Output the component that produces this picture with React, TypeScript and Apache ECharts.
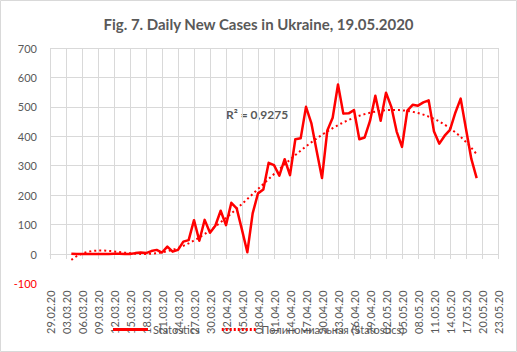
import React, { useEffect, useRef } from "react";
import * as echarts from "echarts";

// Axis: day offsets from 29.02.2020 (day 0) to 23.05.2020 (day 84), ticks every 3 days
const AXIS_START_UTC = Date.UTC(2020, 1, 29);
const AXIS_MAX_DAY = 84;
const TICK_STEP_DAYS = 3;

// First plotted point is day 4 (04.03.2020); one value per day up to day 80 (19.05.2020)
const FIRST_DAY = 4;
const dailyCases = [
  1, 0, 0, 0, 0, 0, 0, 0,
  1, 1, 0, 0, 3, 5, 3, 10, 14, 5,
  25, 8, 14, 42, 47, 115, 45, 116, 72, 96,
  147, 98, 174, 155, 82, 6, 138, 206, 219, 310,
  302, 266, 322, 268, 390, 393, 500, 445, 350, 258,
  420, 463, 576, 477, 478, 489, 390, 396, 452, 538,
  453, 548, 500, 416, 364, 487, 507, 504, 515, 522,
  416, 375, 402, 422, 480, 528, 425, 323, 258,
];

const Y_MIN = -100;
const Y_MAX = 700;
const Y_STEP = 100;

const TITLE = "Fig. 7. Daily New Cases in Ukraine, 19.05.2020";
const SERIES_NAME = "Statostics";
const TREND_NAME = "Полиномиальная (Statostics)";
const R2_LABEL = "R² = 0,9275";
const TREND_ORDER = 6; // Excel polynomial trendline, order 6 (R² ≈ 0.9275)

const FONT = "Lato, 'Open Sans', sans-serif";
const TEXT_COLOR = "#595959";
const GRID_COLOR = "#d9d9d9";
const RED = "#ff0000";

function pad(n: number) {
  return n < 10 ? "0" + n : String(n);
}
function dayLabel(d: number) {
  const dt = new Date(AXIS_START_UTC + d * 86400000);
  return `${pad(dt.getUTCDate())}.${pad(dt.getUTCMonth() + 1)}.${String(dt.getUTCFullYear()).slice(2)}`;
}

function polyFit(xs: number[], ys: number[], order: number) {
  const mean = xs.reduce((a, b) => a + b, 0) / xs.length;
  const scale = (Math.max(...xs) - Math.min(...xs)) / 2 || 1;
  const us = xs.map((x) => (x - mean) / scale);
  const m = order + 1;
  const M: number[][] = Array.from({ length: m }, () => new Array(m + 1).fill(0));
  for (let i = 0; i < us.length; i++) {
    const p: number[] = [];
    for (let k = 0; k < m; k++) p.push(Math.pow(us[i], k));
    for (let r = 0; r < m; r++) {
      for (let c = 0; c < m; c++) M[r][c] += p[r] * p[c];
      M[r][m] += p[r] * ys[i];
    }
  }
  for (let col = 0; col < m; col++) {
    let piv = col;
    for (let r = col + 1; r < m; r++) if (Math.abs(M[r][col]) > Math.abs(M[piv][col])) piv = r;
    [M[col], M[piv]] = [M[piv], M[col]];
    for (let r = 0; r < m; r++) {
      if (r === col) continue;
      const f = M[r][col] / M[col][col];
      for (let c = col; c <= m; c++) M[r][c] -= f * M[col][c];
    }
  }
  const coef = M.map((row, i) => row[m] / row[i]);
  return (x: number) => {
    const u = (x - mean) / scale;
    let s = 0;
    for (let k = 0; k < m; k++) s += coef[k] * Math.pow(u, k);
    return s;
  };
}

// legend icons: a solid bar and a row of dots
const SOLID_ICON = "path://M0,0h35v3h-35z";
const DOTTED_ICON =
  "path://" +
  Array.from({ length: 9 }, (_, i) => `M${i * 4},0h2v3h-2z`).join("");

export default function App() {
  const ref = useRef<HTMLDivElement>(null);
  useEffect(() => {
    if (!ref.current) return;
    const chart = echarts.init(ref.current, undefined, { renderer: "svg" });
    const xs = dailyCases.map((_, i) => FIRST_DAY + i);
    const fit = polyFit(xs, dailyCases, TREND_ORDER);
    const trend: number[][] = [];
    for (let x = xs[0]; x <= xs[xs.length - 1] + 1e-9; x += 0.5) trend.push([x, fit(x)]);

    const gridLeft = 50, gridRight = 19, gridTop = 48;
    const zeroY = 254;
    const pxPerUnit = (zeroY - gridTop) / Y_MAX;
    const bottomY = zeroY - Y_MIN * pxPerUnit;

    const splitColors: string[] = [];
    for (let v = Y_MIN; v <= Y_MAX; v += Y_STEP) splitColors.push(v === Y_MIN ? "rgba(0,0,0,0)" : GRID_COLOR);

    chart.setOption({
      animation: false,
      textStyle: { fontFamily: FONT },
      title: {
        text: TITLE,
        left: "center",
        top: 11,
        textStyle: { fontFamily: FONT, fontSize: 15, fontWeight: "bold", color: TEXT_COLOR },
      },
      grid: [
        { left: gridLeft, right: gridRight, top: gridTop, bottom: 352 - bottomY },
        { left: gridLeft, right: gridRight, top: gridTop, bottom: 352 - zeroY },
      ],
      xAxis: [
        {
          type: "value",
          gridIndex: 0,
          min: 0,
          max: AXIS_MAX_DAY,
          interval: TICK_STEP_DAYS,
          axisLine: { show: true, onZero: true, lineStyle: { color: GRID_COLOR, width: 1 } },
          axisTick: { show: true, length: 5, lineStyle: { color: GRID_COLOR } },
          axisLabel: {
            rotate: 90,
            margin: 7,
            fontSize: 11,
            fontFamily: FONT,
            color: TEXT_COLOR,
            formatter: (v: number) => dayLabel(v),
            showMinLabel: true,
            showMaxLabel: true,
          },
          splitLine: { show: false },
        },
        {
          type: "value",
          gridIndex: 1,
          min: 0,
          max: AXIS_MAX_DAY,
          interval: TICK_STEP_DAYS,
          axisLine: { show: false },
          axisTick: { show: false },
          axisLabel: { show: false },
          splitLine: { show: true, lineStyle: { color: GRID_COLOR, width: 1 } },
        },
      ],
      yAxis: [
        {
          type: "value",
          gridIndex: 0,
          min: Y_MIN,
          max: Y_MAX,
          interval: Y_STEP,
          axisLine: { show: false },
          axisTick: { show: false },
          axisLabel: {
            margin: 13,
            fontSize: 11,
            fontFamily: FONT,
            color: (v: any) => (Number(v) < 0 ? RED : TEXT_COLOR),
          },
          splitLine: { show: true, lineStyle: { color: splitColors, width: 1 } },
        },
        {
          type: "value",
          gridIndex: 1,
          min: 0,
          max: Y_MAX,
          interval: Y_STEP,
          show: false,
          splitLine: { show: false },
        },
      ],
      legend: {
        left: "center",
        top: 323,
        padding: 0,
        itemWidth: 35,
        itemHeight: 3,
        itemGap: 22,
        textStyle: { fontFamily: FONT, fontSize: 11, lineHeight: 13, color: TEXT_COLOR },
        data: [
          { name: SERIES_NAME, icon: SOLID_ICON, itemStyle: { color: RED } },
          { name: TREND_NAME, icon: DOTTED_ICON, itemStyle: { color: RED } },
        ],
      },
      graphic: [
        {
          type: "rect",
          shape: { x: 0.5, y: 0.5, width: 516, height: 351 },
          style: { fill: "none", stroke: GRID_COLOR, lineWidth: 1 },
          silent: true,
        },
        {
          type: "text",
          left: 226,
          top: 108,
          style: { text: R2_LABEL, fontFamily: FONT, fontSize: 12, fontWeight: "bold", fill: TEXT_COLOR },
        },
      ],
      series: [
        {
          name: SERIES_NAME,
          type: "line",
          xAxisIndex: 0,
          yAxisIndex: 0,
          data: dailyCases.map((v, i) => [FIRST_DAY + i, v]),
          symbol: "none",
          showSymbol: false,
          lineStyle: { color: RED, width: 2.5, join: "round" },
          itemStyle: { color: RED },
          z: 3,
        },
        {
          name: TREND_NAME,
          type: "line",
          xAxisIndex: 0,
          yAxisIndex: 0,
          data: trend,
          symbol: "none",
          showSymbol: false,
          lineStyle: { color: RED, width: 2, type: [2, 3] },
          itemStyle: { color: RED },
          z: 4,
        },
      ],
    });
    return () => chart.dispose();
  }, []);
  return <div ref={ref} style={{ position: "absolute", left: 0, top: 0, width: 517, height: 352 }} />;
}
